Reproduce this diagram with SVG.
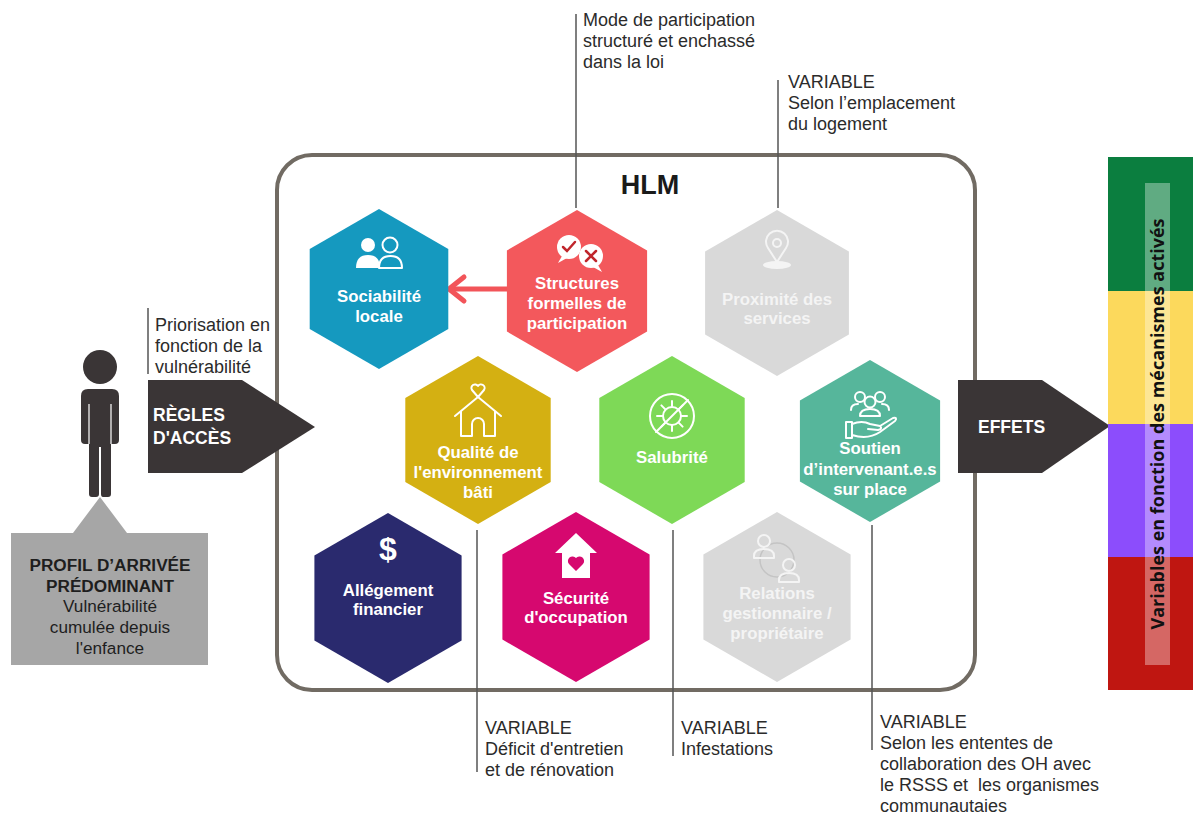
<svg xmlns="http://www.w3.org/2000/svg" width="1193" height="814" viewBox="0 0 1193 814">
<style>
.lbl{font-family:"Liberation Sans",Arial,sans-serif;font-weight:bold;font-size:16.8px;fill:#ffffff;text-anchor:middle}
.glbl{font-family:"Liberation Sans",Arial,sans-serif;font-weight:bold;font-size:16.8px;fill:#f4f4f4;text-anchor:middle}
.note{font-family:"Liberation Sans",Arial,sans-serif;font-size:18px;fill:#2b2b2b}
.lead{stroke:#555555;stroke-width:1.5;fill:none}
.ico{fill:none;stroke:#ffffff;stroke-width:2;stroke-linecap:round;stroke-linejoin:round}
.gico{fill:none;stroke:#f4f4f4;stroke-width:2;stroke-linecap:round;stroke-linejoin:round}
.dark{fill:#3a3536}
.arrtxt{font-family:"Liberation Sans",Arial,sans-serif;font-weight:bold;font-size:17.5px;fill:#ffffff}
</style>
<rect width="1193" height="814" fill="#ffffff"/>

<g id="hlm-box">
<rect x="277" y="155" width="698" height="535" rx="35" fill="none" stroke="#716b63" stroke-width="4"/>
<text x="650" y="194" font-family="Liberation Sans,Arial,sans-serif" font-weight="bold" font-size="27" fill="#1a1a1a" text-anchor="middle">HLM</text>
</g>

<g id="connectors">
<line class="lead" x1="576" y1="14" x2="576" y2="208"/>
<line class="lead" x1="778" y1="80" x2="778" y2="208"/>
<line class="lead" x1="148" y1="308" x2="148" y2="374"/>
<line class="lead" x1="477" y1="530" x2="477" y2="772"/>
<line class="lead" x1="673" y1="530" x2="673" y2="756"/>
<line class="lead" x1="872" y1="525" x2="872" y2="750"/>
<g id="edge-structures-sociabilite" stroke="#f25459" stroke-width="5" stroke-linecap="round" stroke-linejoin="round" fill="none">
<line x1="507" y1="289" x2="450" y2="289"/>
<polyline points="464,277 449,289 464,301"/>
</g>
</g>

<g id="node-sociabilite">
<polygon points="379,209 448.3,249 448.3,329 379,369 309.7,329 309.7,249" fill="#1599bf"/>
<circle cx="368" cy="245" r="7" fill="#ffffff"/>
<path d="M356 268 Q356 255 368 255 Q380 255 380 268 Z" fill="#ffffff"/>
<circle cx="390" cy="245" r="7.5" class="ico" stroke-width="1.8"/>
<path d="M379 268 Q379 256 390.5 256 Q402 256 402 268 Z" class="ico" stroke-width="1.8"/>
<text class="lbl" x="379" y="302">Sociabilité</text>
<text class="lbl" x="379" y="322">locale</text>
</g>

<g id="node-structures">
<polygon points="577,210 647.1,250.5 647.1,331.5 577,372 506.9,331.5 506.9,250.5" fill="#f3585c"/>
<circle cx="569" cy="247" r="12" fill="#ffffff"/>
<path d="M562 256 L558 263 L567 258 Z" fill="#ffffff"/>
<circle cx="591" cy="256" r="12" fill="#ffffff"/>
<path d="M598 265 L602 272 L593 267 Z" fill="#ffffff"/>
<polyline points="563,247 567,251 575,242" fill="none" stroke="#c0262c" stroke-width="2.5" stroke-linecap="round"/>
<path d="M586 251 L596 261 M596 251 L586 261" stroke="#c0262c" stroke-width="2.5" stroke-linecap="round"/>
<text class="lbl" x="577" y="289">Structures</text>
<text class="lbl" x="577" y="309">formelles de</text>
<text class="lbl" x="577" y="329">participation</text>
</g>

<g id="node-proximite">
<polygon points="777,210 848.9,251.5 848.9,334.5 777,376 705.1,334.5 705.1,251.5" fill="#d9d9d9"/>
<path d="M777 262 L768 248 A11 11 0 1 1 786 248 Z" class="gico" stroke-width="1.8"/>
<circle cx="777" cy="243" r="4" class="gico" stroke-width="1.8"/>
<ellipse cx="777" cy="265" rx="14" ry="4" fill="#f4f4f4"/>
<text class="glbl" x="777" y="305">Proximité des</text>
<text class="glbl" x="777" y="324">services</text>
</g>

<g id="node-qualite">
<polygon points="478,356 550.7,398 550.7,482 478,524 405.3,482 405.3,398" fill="#d4b012"/>
<path d="M455 416 L478 397 L501 416 M461 411 V436 H472 V424 A6 6 0 0 1 484 424 V436 H495 V411" class="ico"/>
<path d="M478 397 L472 390 A3.5 3.5 0 0 1 478 386 A3.5 3.5 0 0 1 484 390 Z" class="ico" stroke-width="1.8"/>
<text class="lbl" x="478" y="458">Qualité de</text>
<text class="lbl" x="478" y="478">l'environnement</text>
<text class="lbl" x="478" y="498">bâti</text>
</g>

<g id="node-salubrite">
<polygon points="672,356 744.7,398 744.7,482 672,524 599.3,482 599.3,398" fill="#7ed957"/>
<circle cx="672" cy="416" r="22" class="ico" stroke-width="1.6"/>
<circle cx="672" cy="416" r="9" class="ico" stroke-width="1.4"/>
<path d="M672 407 V401 M672 425 V431 M663 416 H657 M681 416 H687 M665.6 409.6 L661.4 405.4 M678.4 422.4 L682.6 426.6 M678.4 409.6 L682.6 405.4 M665.6 422.4 L661.4 426.6" class="ico" stroke-width="1.4"/>
<line x1="688" y1="400" x2="656" y2="432" class="ico" stroke-width="1.6"/>
<text class="lbl" x="672" y="463">Salubrité</text>
</g>

<g id="node-soutien">
<polygon points="870,360 940.1,400.5 940.1,481.5 870,522 799.9,481.5 799.9,400.5" fill="#56b69b"/>
<circle cx="860" cy="397" r="5" class="ico" stroke-width="1.6"/>
<circle cx="880" cy="397" r="5" class="ico" stroke-width="1.6"/>
<circle cx="870" cy="402" r="5.5" class="ico" stroke-width="1.6"/>
<path d="M851 410 Q851 404 858 404 M889 410 Q889 404 882 404 M860 416 Q860 409 870 409 Q880 409 880 416 Z" class="ico" stroke-width="1.6"/>
<path d="M846 422 H852 V438 H846 Z M852 424 Q862 420 870 424 L880 426 Q883 429 878 430 L868 429 M852 435 Q868 440 880 432 L895 421 Q898 417 893 418 L880 426" class="ico" stroke-width="1.6"/>
<text class="lbl" x="870" y="454">Soutien</text>
<text class="lbl" x="870" y="475">d’intervenant.e.s</text>
<text class="lbl" x="870" y="495">sur place</text>
</g>

<g id="node-allegement">
<polygon points="388,513 461.6,555.5 461.6,640.5 388,683 314.4,640.5 314.4,555.5" fill="#2a2a6e"/>
<text x="388" y="560" font-family="Liberation Sans,Arial,sans-serif" font-weight="bold" font-size="32" fill="#ffffff" text-anchor="middle">$</text>
<text class="lbl" x="388" y="596">Allégement</text>
<text class="lbl" x="388" y="615">financier</text>
</g>

<g id="node-securite">
<polygon points="576,512 649.6,554.5 649.6,639.5 576,682 502.4,639.5 502.4,554.5" fill="#d6086f"/>
<path d="M576 533 L597 553 H590 V578 H562 V553 H555 Z" fill="#ffffff"/>
<path d="M576 571 L569 564 A4 4 0 0 1 576 558 A4 4 0 0 1 583 564 Z" fill="#d6086f"/>
<text class="lbl" x="576" y="604">Sécurité</text>
<text class="lbl" x="576" y="623">d'occupation</text>
</g>

<g id="node-relations">
<polygon points="777,512 850.6,554.5 850.6,639.5 777,682 703.4,639.5 703.4,554.5" fill="#d9d9d9"/>
<circle cx="777" cy="560" r="17" fill="none" stroke="#c4c4c4" stroke-width="1.5"/>
<circle cx="764" cy="541" r="6" fill="#d9d9d9" class="gico" stroke-width="1.6"/>
<path d="M754 556 Q754 549 764 549 Q774 549 774 556 V558 H754 Z" fill="#d9d9d9" class="gico" stroke-width="1.6"/>
<circle cx="789" cy="565" r="6" fill="#d9d9d9" class="gico" stroke-width="1.6"/>
<path d="M779 580 Q779 573 789 573 Q799 573 799 580 V582 H779 Z" fill="#d9d9d9" class="gico" stroke-width="1.6"/>
<text class="glbl" x="777" y="599">Relations</text>
<text class="glbl" x="777" y="619">gestionnaire /</text>
<text class="glbl" x="777" y="639">propriétaire</text>
</g>

<g id="node-person">
<circle cx="100" cy="367" r="17" class="dark"/>
<path d="M88 389 H112 Q119 389 119 396 V440 Q119 444 115 444 H111 V494 Q111 497 108 497 H103 Q101 497 101 494 V447 H99 V494 Q99 497 96 497 H92 Q89 497 89 494 V444 H85 Q81 444 81 440 V396 Q81 389 88 389 Z" class="dark"/>
<path d="M89 404 V444 M111 404 V444" stroke="#ffffff" stroke-width="1.2"/>
</g>

<g id="node-profil">
<polygon points="100,497 127,533 208,533 208,665 11,665 11,533 73,533" fill="#a6a6a6"/>
<g font-family="Liberation Sans,Arial,sans-serif" font-size="17.2" fill="#1e1e1e" text-anchor="middle">
<text x="110" y="571" font-weight="bold">PROFIL D’ARRIVÉE</text>
<text x="110" y="592" font-weight="bold">PRÉDOMINANT</text>
<text x="110" y="612">Vulnérabilité</text>
<text x="110" y="633">cumulée depuis</text>
<text x="110" y="654">l'enfance</text>
</g>
</g>

<g id="node-regles">
<polygon points="148,380 242,380 315,427 242,473 148,473" class="dark"/>
<text class="arrtxt" x="153" y="421">RÈGLES</text>
<text class="arrtxt" x="153" y="444">D'ACCÈS</text>
</g>
<g id="note-priorisation">
<text class="note" x="155" y="331">Priorisation en</text>
<text class="note" x="155" y="352">fonction de la</text>
<text class="note" x="155" y="373">vulnérabilité</text>
</g>

<g id="node-effets">
<polygon points="958,380 1042,380 1110,426 1042,473 958,473" class="dark"/>
<text class="arrtxt" x="978" y="433" font-size="18">EFFETS</text>
</g>

<g id="node-variables-bar">
<rect x="1108" y="157" width="85" height="134" fill="#0b7e3f"/>
<rect x="1108" y="291" width="85" height="133" fill="#fcd95c"/>
<rect x="1108" y="424" width="85" height="133" fill="#8c4dfc"/>
<rect x="1108" y="557" width="85" height="133" fill="#bf1611"/>
<rect x="1145" y="183" width="25" height="482" fill="#ffffff" fill-opacity="0.35"/>
<text transform="translate(1164,424) rotate(-90)" font-family="Open Sans,Liberation Sans,sans-serif" font-weight="bold" font-size="18" fill="#111111" text-anchor="middle">Variables en fonction des mécanismes activés</text>
</g>

<g id="notes">
<text class="note" x="583" y="26">Mode de participation</text>
<text class="note" x="583" y="47">structuré et enchassé</text>
<text class="note" x="583" y="68">dans la loi</text>
<text class="note" x="788" y="88">VARIABLE</text>
<text class="note" x="788" y="109">Selon l’emplacement</text>
<text class="note" x="788" y="130">du logement</text>
<text class="note" x="485" y="734">VARIABLE</text>
<text class="note" x="485" y="755">Déficit d'entretien</text>
<text class="note" x="485" y="776">et de rénovation</text>
<text class="note" x="681" y="734">VARIABLE</text>
<text class="note" x="681" y="755">Infestations</text>
<text class="note" x="880" y="728">VARIABLE</text>
<text class="note" x="880" y="749">Selon les ententes de</text>
<text class="note" x="880" y="770">collaboration des OH avec</text>
<text class="note" x="880" y="791">le RSSS et&#160; les organismes</text>
<text class="note" x="880" y="812">communautaies</text>
</g>
</svg>
